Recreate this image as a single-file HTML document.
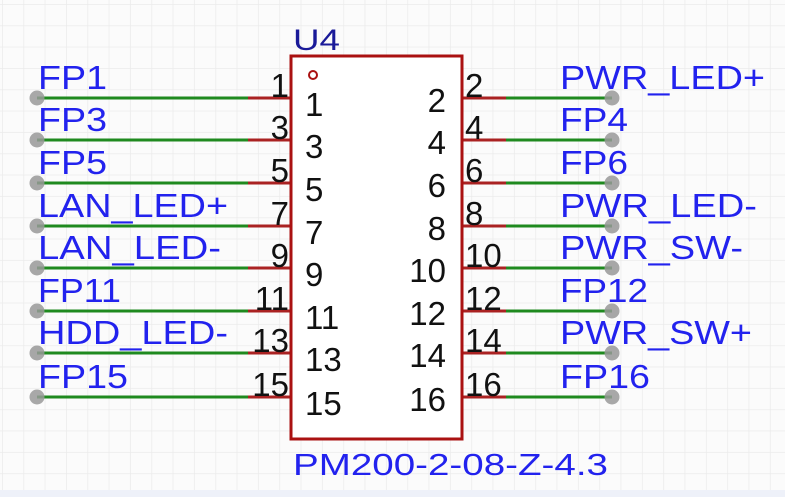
<!DOCTYPE html>
<html><head><style>html,body{margin:0;padding:0;background:#fff}svg{display:block}</style></head><body>
<svg width="785" height="497" xmlns="http://www.w3.org/2000/svg" font-family="Liberation Sans, sans-serif">
<defs><pattern id="g" width="21.33" height="21.33" patternUnits="userSpaceOnUse" x="2" y="4">
<path d="M0 0H21.33M0 0V21.33" stroke="#ebebeb" stroke-width="1.5" fill="none"/></pattern></defs>
<rect width="785" height="497" fill="#fbfbfb"/>
<rect width="785" height="490" fill="url(#g)"/>
<rect y="490" width="785" height="7" fill="#eef1f9"/>
<g stroke-width="3">
<g stroke="#1f8a1f">
<path d="M37 98H250M37 140H250M37 183H250M37 226H250M37 268H250M37 311H250M37 353H250M37 397H250"/>
<path d="M504 98H612M504 140H612M504 183H612M504 226H612M504 268H612M504 311H612M504 353H612M504 397H612"/>
</g>
<g stroke="#aa2222">
<path d="M248 98H291M248 140H291M248 183H291M248 226H291M248 268H291M248 311H291M248 353H291M248 397H291"/>
<path d="M462 98H506M462 140H506M462 183H506M462 226H506M462 268H506M462 311H506M462 353H506M462 397H506"/>
</g>
</g>
<g fill="#999" opacity="0.85">
<circle cx="37" cy="98" r="7.5"/><circle cx="37" cy="140" r="7.5"/><circle cx="37" cy="183" r="7.5"/><circle cx="37" cy="226" r="7.5"/><circle cx="37" cy="268" r="7.5"/><circle cx="37" cy="311" r="7.5"/><circle cx="37" cy="353" r="7.5"/><circle cx="37" cy="397" r="7.5"/>
<circle cx="612" cy="98" r="7.5"/><circle cx="612" cy="140" r="7.5"/><circle cx="612" cy="183" r="7.5"/><circle cx="612" cy="226" r="7.5"/><circle cx="612" cy="268" r="7.5"/><circle cx="612" cy="311" r="7.5"/><circle cx="612" cy="353" r="7.5"/><circle cx="612" cy="397" r="7.5"/>
</g>
<rect x="291" y="56" width="171" height="383" fill="#fff" stroke="#aa1111" stroke-width="3"/>
<circle cx="313" cy="75" r="4" fill="none" stroke="#aa1111" stroke-width="2"/>
<text x="293" y="50" font-size="30" fill="#1a1a99" textLength="47" lengthAdjust="spacingAndGlyphs">U4</text>
<text x="293" y="475" font-size="31" fill="#2222ee" textLength="315" lengthAdjust="spacingAndGlyphs">PM200-2-08-Z-4.3</text>
<g font-size="33" fill="#2222ee">
<text x="38" y="89" textLength="69" lengthAdjust="spacingAndGlyphs">FP1</text><text x="38" y="131" textLength="69" lengthAdjust="spacingAndGlyphs">FP3</text><text x="38" y="174" textLength="69" lengthAdjust="spacingAndGlyphs">FP5</text><text x="38" y="217" textLength="190" lengthAdjust="spacingAndGlyphs">LAN_LED+</text><text x="38" y="259" textLength="183" lengthAdjust="spacingAndGlyphs">LAN_LED-</text><text x="38" y="302" textLength="83" lengthAdjust="spacingAndGlyphs">FP11</text><text x="38" y="344" textLength="190" lengthAdjust="spacingAndGlyphs">HDD_LED-</text><text x="38" y="388" textLength="90" lengthAdjust="spacingAndGlyphs">FP15</text>
<text x="560" y="89" textLength="205" lengthAdjust="spacingAndGlyphs">PWR_LED+</text><text x="560" y="131" textLength="68" lengthAdjust="spacingAndGlyphs">FP4</text><text x="560" y="174" textLength="68" lengthAdjust="spacingAndGlyphs">FP6</text><text x="560" y="217" textLength="197" lengthAdjust="spacingAndGlyphs">PWR_LED-</text><text x="560" y="259" textLength="183" lengthAdjust="spacingAndGlyphs">PWR_SW-</text><text x="560" y="302" textLength="88" lengthAdjust="spacingAndGlyphs">FP12</text><text x="560" y="344" textLength="192" lengthAdjust="spacingAndGlyphs">PWR_SW+</text><text x="560" y="388" textLength="90" lengthAdjust="spacingAndGlyphs">FP16</text>
</g>
<g font-size="33" fill="#111">
<g text-anchor="end">
<text x="289" y="97">1</text><text x="289" y="139">3</text><text x="289" y="182">5</text><text x="289" y="225">7</text><text x="289" y="267">9</text><text x="289" y="310">11</text><text x="289" y="352">13</text><text x="289" y="396">15</text>
<text x="446" y="112">2</text><text x="446" y="154">4</text><text x="446" y="197">6</text><text x="446" y="240">8</text><text x="446" y="282">10</text><text x="446" y="325">12</text><text x="446" y="367">14</text><text x="446" y="411">16</text>
</g>
<text x="465" y="97">2</text><text x="465" y="139">4</text><text x="465" y="182">6</text><text x="465" y="225">8</text><text x="465" y="267">10</text><text x="465" y="310">12</text><text x="465" y="352">14</text><text x="465" y="396">16</text>
<text x="305" y="116">1</text><text x="305" y="158">3</text><text x="305" y="201">5</text><text x="305" y="244">7</text><text x="305" y="286">9</text><text x="305" y="329">11</text><text x="305" y="371">13</text><text x="305" y="415">15</text>
</g>
</svg>
</body></html>
